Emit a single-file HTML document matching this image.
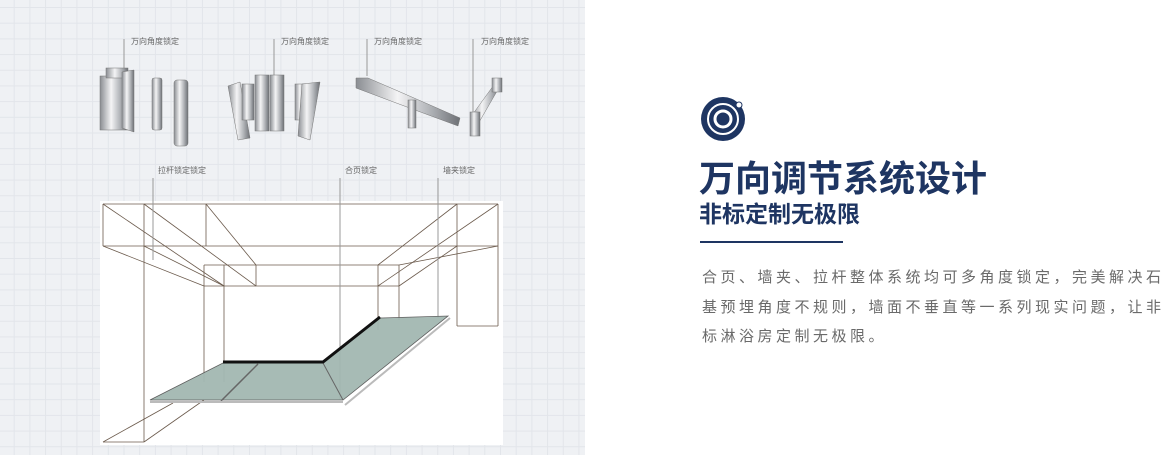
<!DOCTYPE html>
<html><head><meta charset="utf-8"><style>
html,body{margin:0;padding:0;width:1167px;height:455px;overflow:hidden;background:#fff;font-family:"Liberation Sans","Noto Sans CJK SC",sans-serif}
.left{position:absolute;left:0;top:0;width:585px;height:455px;background-color:#eff1f4;
background-image:linear-gradient(#e2e5ea 1px,transparent 1px),linear-gradient(90deg,#e2e5ea 1px,transparent 1px);background-size:15.7px 15.7px;background-position:-2px 7px}
.t{position:absolute;color:#1e3562;font-weight:bold;white-space:nowrap}
.p{position:absolute;left:702px;top:263px;width:470px;font-size:15px;letter-spacing:3.5px;line-height:29.5px;color:#6a6a6a}
.lbl{font-size:8px;fill:#666}
</style></head><body>
<div class="left"></div>
<svg style="position:absolute;left:0;top:0" width="585" height="455">
<defs>
<linearGradient id="m" x1="0" x2="1"><stop offset="0" stop-color="#8a8d92"/><stop offset=".4" stop-color="#f4f4f5"/><stop offset=".7" stop-color="#b3b6ba"/><stop offset="1" stop-color="#6d7075"/></linearGradient>
</defs>
<g class="lbl" font-family="Liberation Sans,Noto Sans CJK SC,sans-serif">
<text x="131" y="44">万向角度锁定</text><text x="281" y="44">万向角度锁定</text>
<text x="374" y="44">万向角度锁定</text><text x="481" y="44">万向角度锁定</text>
<text x="158" y="173">拉杆锁定锁定</text><text x="345" y="173">合页锁定</text><text x="443" y="173">墙夹锁定</text>
</g>
<g stroke="#999" stroke-width="1">
<line x1="124" y1="39" x2="124" y2="72"/><line x1="274" y1="39" x2="274" y2="75"/>
<line x1="367" y1="39" x2="367" y2="76"/><line x1="473" y1="39" x2="473" y2="118"/>
</g>
<g fill="url(#m)" stroke="#777" stroke-width=".5">
<rect x="100" y="76" width="28" height="54"/><rect x="106" y="68" width="22" height="10"/>
<polygon points="122,72 134,70 134,132 122,128"/>
<rect x="152" y="78" width="10" height="52" rx="2"/>
<rect x="174" y="80" width="14" height="66" rx="3"/>
<polygon points="228,86 240,82 250,138 238,140"/>
<rect x="242" y="84" width="12" height="36"/>
<rect x="255" y="75" width="14" height="56"/><rect x="270" y="75" width="14" height="56"/>
<rect x="295" y="84" width="12" height="36"/>
<polygon points="302,84 320,82 310,140 298,136"/>
<polygon points="356,78 368,78 460,118 458,126 356,88"/>
<rect x="408" y="100" width="8" height="28"/>
<polygon points="470,118 496,82 500,86 478,124"/>
<rect x="492" y="78" width="10" height="14"/>
<rect x="470" y="112" width="10" height="24"/>
</g>
<rect x="100" y="201" width="403" height="244" fill="#fff"/>
<g stroke="#6b5a4c" stroke-width=".8" fill="none">
<line x1="103" y1="204" x2="498" y2="204"/><line x1="103" y1="246" x2="498" y2="246"/>
<line x1="103" y1="204" x2="103" y2="246"/><line x1="144" y1="204" x2="144" y2="442"/>
<line x1="206" y1="204" x2="206" y2="246"/><line x1="457" y1="204" x2="457" y2="326"/>
<line x1="498" y1="204" x2="498" y2="326"/><line x1="457" y1="326" x2="498" y2="326"/>
<line x1="204" y1="265" x2="399" y2="265"/><line x1="204" y1="286" x2="399" y2="286"/>
<line x1="204" y1="265" x2="204" y2="382"/><line x1="224" y1="265" x2="224" y2="382"/>
<line x1="256" y1="265" x2="256" y2="286"/><line x1="378" y1="265" x2="378" y2="330"/><line x1="399" y1="265" x2="399" y2="320"/>
<line x1="103" y1="204" x2="224" y2="286"/><line x1="144" y1="204" x2="256" y2="286"/>
<line x1="206" y1="204" x2="256" y2="265"/><line x1="103" y1="246" x2="204" y2="286"/>
<line x1="144" y1="246" x2="224" y2="286"/>
<line x1="457" y1="204" x2="378" y2="265"/><line x1="498" y1="204" x2="378" y2="286"/>
<line x1="457" y1="246" x2="399" y2="286"/><line x1="498" y1="246" x2="399" y2="265"/>
<line x1="103" y1="442" x2="173" y2="403"/><line x1="144" y1="442" x2="204" y2="400"/>
<line x1="103" y1="442" x2="144" y2="442"/>
</g>
<g stroke="#999" stroke-width="1">
<line x1="153" y1="178" x2="153" y2="260"/><line x1="340" y1="178" x2="340" y2="400"/><line x1="438" y1="178" x2="438" y2="318"/>
</g>
<polygon points="150,400 223,363 323,363 380,318 448,316 343,400" fill="#a3b8b2" stroke="#555" stroke-width=".8" opacity=".95"/>
<line x1="221" y1="401" x2="258" y2="364" stroke="#666" stroke-width="1.5"/>
<line x1="323" y1="363" x2="343" y2="400" stroke="#666" stroke-width="1"/>
<polyline points="223,362 323,362 380,317" fill="none" stroke="#111" stroke-width="3"/>
<line x1="150" y1="402" x2="343" y2="402" stroke="#bbb" stroke-width="2"/>
<line x1="345" y1="405" x2="450" y2="318" stroke="#bbb" stroke-width="2"/>
</svg>
<svg style="position:absolute;left:700px;top:96px" width="48" height="48">
<circle cx="23" cy="23" r="22" fill="#1e3562"/>
<circle cx="23" cy="23" r="15" fill="none" stroke="#fff" stroke-width="2"/>
<circle cx="23" cy="23" r="8" fill="none" stroke="#fff" stroke-width="3"/>
<circle cx="39" cy="9" r="3" fill="#fff" stroke="#1e3562" stroke-width="1"/>
</svg>
<div class="t" style="left:699px;top:150px;font-size:36px">万向调节系统设计</div>
<div class="t" style="left:699px;top:195px;font-size:23px">非标定制无极限</div>
<div style="position:absolute;left:700px;top:241px;width:143px;height:2px;background:#1e3562"></div>
<div class="p">合页、墙夹、拉杆整体系统均可多角度锁定，完美解决石基预埋角度不规则，墙面不垂直等一系列现实问题，让非标淋浴房定制无极限。</div>
</body></html>
